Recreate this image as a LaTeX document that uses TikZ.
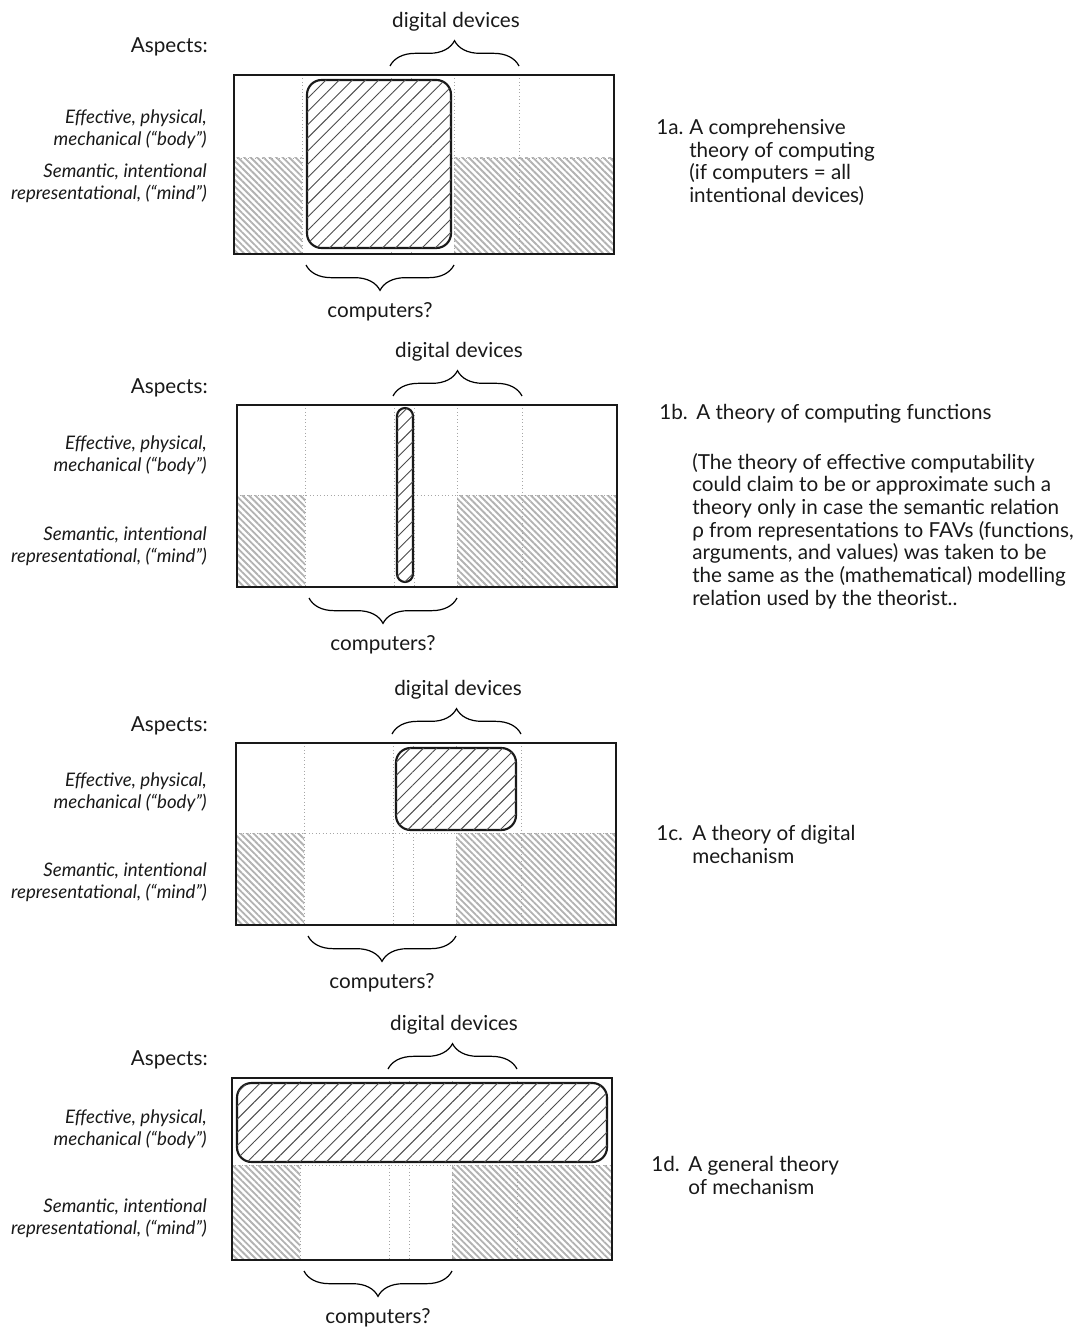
\documentclass[tikz,border=0pt]{standalone}
\usepackage{fontspec}
\setmainfont{Lato}
\usepackage{tikz}
\usetikzlibrary{decorations.pathreplacing,patterns.meta,positioning}

\tikzset{
  panelframe/.style={draw=black!90,line width=1.1pt},
  gridline/.style={draw=gray!70,dotted,line width=0.6pt},
  mindhatch/.style={pattern={Lines[angle=-45,distance=3.4pt,line width=1.4pt]},pattern color=gray!60},
  theory/.style={draw=black!90,line width=1.6pt,rounded corners=11pt,fill=white,
    postaction={pattern={Lines[angle=45,distance=7pt,line width=0.7pt]},pattern color=black!70}},
  curly/.style={decorate,decoration={brace,amplitude=19pt},line width=0.9pt},
  lbl/.style={font=\fontsize{15.5}{17}\selectfont,inner sep=0pt,text=black!90},
  aspect/.style={lbl,font=\fontsize{14}{16.5}\selectfont\itshape,align=right,anchor=east},
}

% #1 name, #2 left, #3 top, #4 height, #5 middle line
\newcommand{\drawpanel}[5]{%
  \pgfmathsetmacro{\breite}{380}
  \fill[mindhatch] (#2,#5) rectangle (#2+68,#3+#4);
  \fill[mindhatch] (#2+220,#5) rectangle (#2+\breite,#3+#4);
  \foreach \vx in {68,157,177,220,285}
    \draw[gridline] (#2+\vx,#3) -- (#2+\vx,#3+#4);
  \draw[gridline] (#2,#5) -- (#2+\breite,#5);
  \draw[panelframe] (#2,#3) rectangle (#2+\breite,#3+#4);
  \coordinate (#1dl) at (#2+156,#3-9);
  \coordinate (#1dr) at (#2+285,#3-9);
  \coordinate (#1cl) at (#2+72,#3+#4+11);
  \coordinate (#1cr) at (#2+220,#3+#4+11);
  \draw[curly] (#1dl) -- (#1dr);
  \draw[curly] (#1cr) -- (#1cl);
  \node[lbl] (#1dig) at (#2+222,#3-53) {digital devices};
  \node[lbl] (#1comp) at (#2+146,#3+#4+58) {computers?};
}

\begin{document}
\begin{tikzpicture}[x=0.75pt,y=-0.75pt]
\useasboundingbox (0,0) rectangle (1075,1330);

% 1a
\drawpanel{pa}{234}{75}{179}{158}
\draw[theory] (307,80) rectangle (451,248);
\node[lbl,anchor=east] (aspa) at (208,47) {Aspects:};
\node[aspect] (bodya) at (207,129) {Effective, physical,\\mechanical (“body”)};
\node[aspect] (minda) at (207,183.5) {Semantic, intentional\\representational, (“mind”)};
\node[lbl,anchor=north west] (numa) at (656,119) {1a.};
\node[lbl,anchor=north west,align=left] (capa) at (689,119)
  {A comprehensive\\theory of computing\\(if computers = all\\intentional devices)};

% 1b
\drawpanel{pb}{237}{405}{182}{495}
\draw[theory,rounded corners=6pt] (397,408) rectangle (413,582);
\node[lbl,anchor=east] (aspb) at (208,388) {Aspects:};
\node[aspect] (bodyb) at (207,455.5) {Effective, physical,\\mechanical (“body”)};
\node[aspect] (mindb) at (207,546) {Semantic, intentional\\representational, (“mind”)};
\node[lbl,anchor=north west] (numb) at (659,404) {1b.};
\node[lbl,anchor=north west] (capb) at (696,404) {A theory of computing functions};
\node[lbl,anchor=north west,align=left] (noteb) at (692,453)
  {(The theory of effective computability\\could claim to be or approximate such a\\theory only in case the semantic relation\\ρ from representations to FAVs (functions,\\arguments, and values) was taken to be\\the same as the (mathematical) modelling\\relation used by the theorist..};

% 1c
\drawpanel{pc}{236}{743}{182}{833}
\draw[theory] (396,748) rectangle (516,830);
\node[lbl,anchor=east] (aspc) at (208,726) {Aspects:};
\node[aspect] (bodyc) at (207,792.5) {Effective, physical,\\mechanical (“body”)};
\node[aspect] (mindc) at (207,882) {Semantic, intentional\\representational, (“mind”)};
\node[lbl,anchor=north west] (numc) at (656,825) {1c.};
\node[lbl,anchor=north west,align=left] (capc) at (692,825) {A theory of digital\\mechanism};

% 1d
\drawpanel{pd}{232}{1078}{182}{1165}
\draw[theory] (237,1083) rectangle (607,1162);
\node[lbl,anchor=east] (aspd) at (208,1060) {Aspects:};
\node[aspect] (bodyd) at (207,1129.5) {Effective, physical,\\mechanical (“body”)};
\node[aspect] (mindd) at (207,1218) {Semantic, intentional\\representational, (“mind”)};
\node[lbl,anchor=north west] (numd) at (651,1156) {1d.};
\node[lbl,anchor=north west,align=left] (capd) at (688,1156) {A general theory\\of mechanism};
\end{tikzpicture}
\end{document}
